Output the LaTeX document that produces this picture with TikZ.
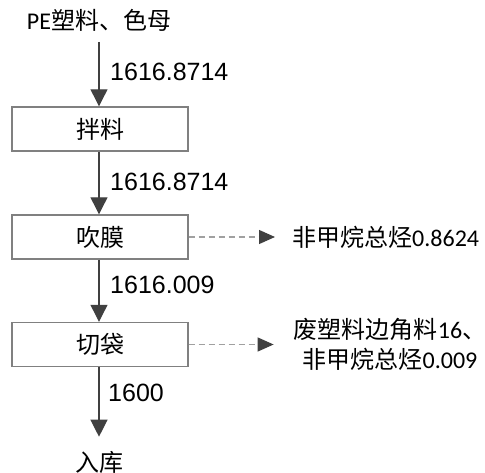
\documentclass[tikz,border=0pt]{standalone}
\usepackage{fontspec}
\usetikzlibrary{arrows.meta}
\newfontfamily\cjk{Noto Sans CJK SC}
\newfontfamily\calib{Carlito}
\newfontfamily\ari{Liberation Sans}
\definecolor{linec}{HTML}{404040}
\definecolor{boxc}{HTML}{808080}
\definecolor{dashc}{HTML}{A0A0A0}
\tikzset{
  every node/.style={font=\fontsize{24}{30}\selectfont, text=black},
  box/.style={draw=boxc, line width=1.4pt, minimum width=176pt, minimum height=44pt, inner sep=0pt, font=\fontsize{24}{30}\selectfont\cjk},
  arr/.style={draw=linec, line width=1.2pt, -{Triangle[length=17pt,width=17pt]}},
  darr/.style={draw=dashc, line width=1.2pt, dash pattern=on 6pt off 4pt, -{Triangle[length=16pt,width=14pt,fill=linec,color=linec]}},
  lab/.style={anchor=west, inner sep=0pt, font=\fontsize{25}{30}\selectfont\ari},
  plain/.style={inner sep=0pt}
}
\begin{document}
\begin{tikzpicture}[x=1pt,y=-1pt]
\useasboundingbox (0,0) rectangle (485,473);
\node[plain] (src) at (99,20) {\calib PE\cjk 塑料、色母};
\node[box] (b1) at (100,129) {拌料};
\node[box] (b2) at (100,237) {吹膜};
\node[box] (b3) at (100,344.5) {切袋};
\node[plain] (dst) at (99,462) {\cjk 入库};
\node[plain, anchor=west] (o1) at (292,237) {\cjk 非甲烷总烃\calib 0.8624};
\node[plain, align=center, font=\fontsize{24}{30}\selectfont] (o2) at (390,344) {\cjk 废塑料边角料\calib 16\cjk 、\\\cjk 非甲烷总烃\calib 0.009};
\coordinate (top) at (99,42);
\draw[arr] (top) -- (b1.north -| top);
\draw[arr] (b1.south -| top) -- (b2.north -| top);
\draw[arr] (b2.south -| top) -- (b3.north -| top);
\draw[arr, shorten >=14pt] (b3.south -| top) -- (dst.north);
\node[lab] (l1) at (110,72) {1616.8714};
\node[lab] (l2) at (110,182) {1616.8714};
\node[lab] (l3) at (110,285) {1616.009};
\node[lab] (l4) at (108,393) {1600};
\draw[darr] (b2.east) -- ([xshift=-17pt]o1.west);
\draw[darr] (b3.east) -- ([xshift=-20pt]b3.east -| o2.west);
\end{tikzpicture}
\end{document}
